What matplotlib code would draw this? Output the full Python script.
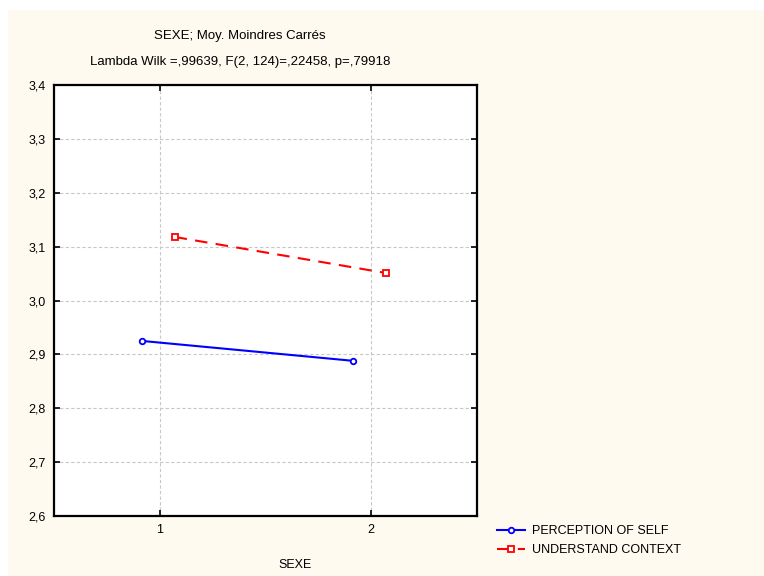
import matplotlib
matplotlib.use('Agg')
import matplotlib.pyplot as plt
from matplotlib.patches import Rectangle
from matplotlib.ticker import FuncFormatter

# data
groups = [1, 2]
perception_self = [2.925, 2.888]
understand_context = [3.118, 3.051]
off_blue = -0.085
off_red = 0.07

plt.rcParams['font.family'] = ['Liberation Sans', 'DejaVu Sans']

fig = plt.figure(figsize=(7.64, 5.76), dpi=100)
fig.patch.set_facecolor('white')
# cream panel (leaves a thin white strip at top and left)
fig.patches.append(Rectangle((8 / 764, 0), 1, 1 - 10 / 576, transform=fig.transFigure,
                             facecolor='#fffaf0', edgecolor='none', zorder=-10))

ax = fig.add_axes([54 / 764, 1 - 516 / 576, (477 - 54) / 764, (516 - 85) / 576])
ax.set_facecolor('white')

x_blue = [g + off_blue for g in groups]
x_red = [g + off_red for g in groups]
ax.plot(x_blue, perception_self, color='#0000ff', lw=1.5, marker='o', ms=4,
        mfc='white', mec='#0000ff', mew=1.3, label='PERCEPTION OF SELF')
ax.plot(x_red, understand_context, color='#ff0000', lw=1.5, ls=(0, (6, 4)), marker='s', ms=4,
        mfc='white', mec='#ff0000', mew=1.3, label='UNDERSTAND CONTEXT')

ax.set_xlim(0.5, 2.5)
ax.set_ylim(2.6, 3.4)
ax.set_xticks(groups)
ax.set_yticks([2.6, 2.7, 2.8, 2.9, 3.0, 3.1, 3.2, 3.3, 3.4])
ax.yaxis.set_major_formatter(FuncFormatter(lambda v, p: f'{v:.1f}'.replace('.', ',')))
ax.grid(True, color='#c8c8c8', ls=(0, (3, 2)), lw=0.8)
ax.tick_params(direction='in', length=4, width=1.2, labelsize=9, right=True, top=True,
               pad=6)
for s in ax.spines.values():
    s.set_linewidth(1.6)
    s.set_color('black')

fig.text(240 / 764, 1 - 36 / 576, 'SEXE; Moy. Moindres Carrés', ha='center', va='center', fontsize=9.5)
fig.text(240 / 764, 1 - 62 / 576, 'Lambda Wilk =,99639, F(2, 124)=,22458, p=,79918',
         ha='center', va='center', fontsize=9.5)
fig.text(295 / 764, 1 - 565 / 576, 'SEXE', ha='center', va='center', fontsize=9)

fig.legend(loc='upper left', bbox_to_anchor=(486 / 764, 1 - 514 / 576), frameon=False,
           fontsize=9, handlelength=2.2, handletextpad=0.6, labelspacing=0.55)

fig.savefig('out.png', dpi=100, facecolor=fig.get_facecolor())
